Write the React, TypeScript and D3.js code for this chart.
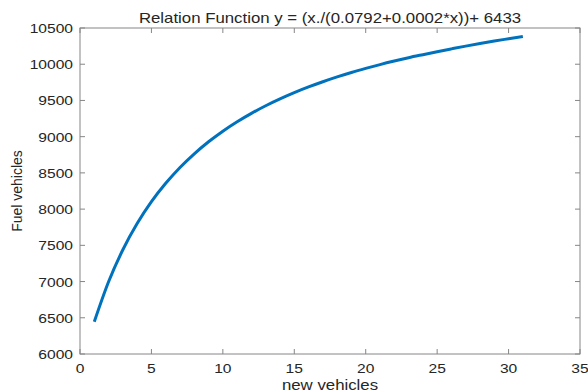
import React from "react";
import * as d3 from "d3";

// Fitted relation: fuel vehicles as a function of new vehicles
const newVehicles = [
  1, 2, 3, 4, 5, 6, 7, 8, 9, 10, 11, 12, 13, 14, 15, 16, 17, 18, 19, 20, 21,
  22, 23, 24, 25, 26, 27, 28, 29, 30, 31,
];
const fuelVehicles = [
  6445, 6997, 7439, 7800, 8102, 8356, 8575, 8764, 8930, 9076, 9206, 9322,
  9427, 9522, 9608, 9686, 9758, 9825, 9886, 9942, 9995, 10044, 10090, 10132,
  10173, 10212, 10250, 10286, 10320, 10352, 10384,
];
const xTicks = [0, 5, 10, 15, 20, 25, 30, 35];
const yTicks = [6000, 6500, 7000, 7500, 8000, 8500, 9000, 9500, 10000, 10500];

const W = 588;
const H = 392;
const M = { left: 80, right: 8, top: 28, bottom: 38 };
const FONT = "'Liberation Sans', Arial, Helvetica, sans-serif";
const AXIS = "#868686";
const TEXT = "#262626";
const SX = 1.2; // horizontal widening of the lettering

type LabelProps = {
  x: number;
  y: number;
  size: number;
  anchor: "start" | "middle" | "end";
  children: React.ReactNode;
};

function Label({ x, y, size, anchor, children }: LabelProps) {
  return (
    <g transform={`translate(${x},${y}) scale(${SX},1)`}>
      <text x={0} y={0} textAnchor={anchor} fontSize={size} fill={TEXT}>
        {children}
      </text>
    </g>
  );
}

export default function App() {
  const x = d3.scaleLinear().domain([0, 35]).range([M.left, W - M.right]);
  const y = d3.scaleLinear().domain([6000, 10500]).range([H - M.bottom, M.top]);
  const pts = newVehicles.map((v, i) => [v, fuelVehicles[i]] as [number, number]);
  const line = d3
    .line<[number, number]>()
    .x((d) => x(d[0]))
    .y((d) => y(d[1]))
    .curve(d3.curveMonotoneX);

  const x0 = x(0), x1 = x(35), y0 = y(6000), y1 = y(10500);
  const tick = 5;

  return (
    <svg
      width={W}
      height={H}
      style={{ position: "absolute", left: 0, top: 0, background: "#fff" }}
      fontFamily={FONT}
    >
      <rect x={0} y={0} width={W} height={H} fill="#fff" />
      {xTicks.map((t) => (
        <g key={"xt" + t}>
          <line x1={x(t)} x2={x(t)} y1={y0} y2={y0 - tick} stroke={AXIS} />
          <line x1={x(t)} x2={x(t)} y1={y1} y2={y1 + tick} stroke={AXIS} />
          <Label x={x(t)} y={y0 + 19} size={13} anchor="middle">
            {t}
          </Label>
        </g>
      ))}
      {yTicks.map((t) => (
        <g key={"yt" + t}>
          <line x1={x0} x2={x0 + tick} y1={y(t)} y2={y(t)} stroke={AXIS} />
          <line x1={x1} x2={x1 - tick} y1={y(t)} y2={y(t)} stroke={AXIS} />
          <Label x={x0 - 7} y={y(t) + 5} size={13} anchor="end">
            {t}
          </Label>
        </g>
      ))}
      <rect
        x={x0}
        y={y1}
        width={x1 - x0}
        height={y0 - y1}
        fill="none"
        stroke={AXIS}
        strokeWidth={1}
      />
      <path
        d={line(pts) || ""}
        fill="none"
        stroke="#0072BD"
        strokeWidth={3}
        strokeLinejoin="round"
      />
      <Label x={(x0 + x1) / 2} y={y1 - 5} size={14} anchor="middle">
        Relation Function y = (x./(0.0792+0.0002*x))+ 6433
      </Label>
      <Label x={(x0 + x1) / 2} y={y0 + 36} size={14} anchor="middle">
        new vehicles
      </Label>
      <text
        transform={`translate(22,${(y0 + y1) / 2}) rotate(-90)`}
        textAnchor="middle"
        fontSize={14}
        fill={TEXT}
      >
        Fuel vehicles
      </text>
    </svg>
  );
}
